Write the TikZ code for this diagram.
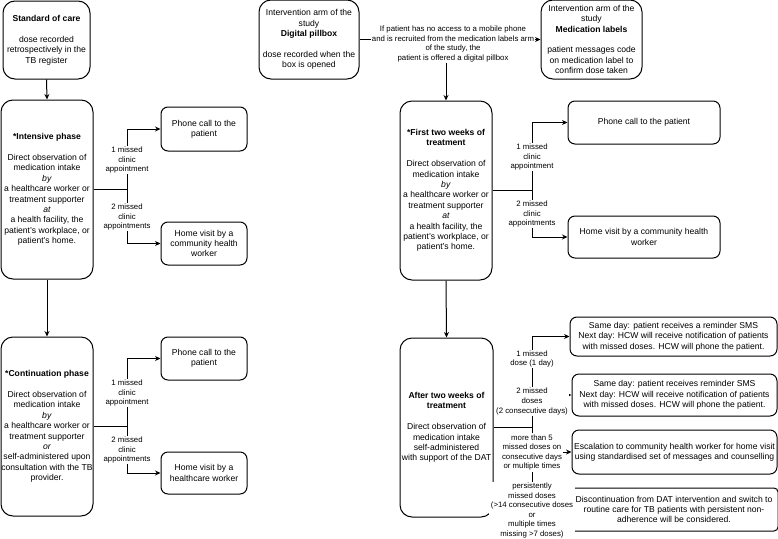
\documentclass[tikz,border=0pt]{standalone}
\usepackage{fontspec}
\setmainfont{Liberation Sans}
\usetikzlibrary{arrows.meta}
\tikzset{
  every node/.style={font=\fontsize{8.6}{10.4}\selectfont, align=center, inner sep=0pt},
  bigbox/.style={draw, line width=1pt, rounded corners=12pt, minimum width=#1},
  smallbox/.style={draw, line width=1pt, rounded corners=7pt, minimum width=#1},
  lbl/.style={fill=white, inner sep=1pt, font=\fontsize{7.8}{9.6}\selectfont},
  arr/.style={line width=1pt, -{Stealth[length=5.5pt,width=5pt]}},
  ln/.style={line width=1pt}
}
\begin{document}
\begin{tikzpicture}[x=1pt,y=-1pt]
\useasboundingbox (0,0) rectangle (778,538);

% ---------------- left column ----------------
\node[bigbox=87pt, minimum height=78pt] (soc) at (46.5,40)
  {\textbf{Standard of care}\\[10.4pt]dose recorded\\retrospectively in the\\TB register};
\node[bigbox=92pt, minimum height=179pt] (int) at (47,189.5)
  {\textbf{*Intensive phase}\\[10.4pt]Direct observation of\\medication intake\\\textit{by}\\a healthcare worker or\\treatment supporter\\\textit{at}\\a health facility, the\\patient's workplace, or\\patient's home.};
\node[smallbox=86pt, minimum height=44pt] (ph1) at (204,129) {Phone call to the\\patient};
\node[smallbox=86pt, minimum height=43pt] (hv1) at (204,243.5) {Home visit by a\\community health\\worker};
\node[bigbox=92pt, minimum height=179pt] (cont) at (47,426.5)
  {\textbf{*Continuation phase}\\[10.4pt]Direct observation of\\medication intake\\\textit{by}\\a healthcare worker or\\treatment supporter\\\textit{or}\\self-administered upon\\consultation with the TB\\provider.};
\node[smallbox=86pt, minimum height=43pt] (ph2) at (204,358.5) {Phone call to the\\patient};
\node[smallbox=86pt, minimum height=42pt] (hv2) at (204,473) {Home visit by a\\healthcare worker};

\draw[arr] (soc.south) -- (int.north);
\draw[arr] (int.south) -- (cont.north);

\coordinate (j1) at (127,189.5);
\draw[ln] (int.east) -- (j1);
\draw[arr] (j1) |- (ph1.west);
\draw[arr] (j1) |- (hv1.west);
\node[lbl] (l11) at (127,160) {1 missed\\clinic\\appointment};
\node[lbl] (l12) at (127,217) {2 missed\\clinic\\appointments};

\coordinate (j2) at (127,426.5);
\draw[ln] (cont.east) -- (j2);
\draw[arr] (j2) |- (ph2.west);
\draw[arr] (j2) |- (hv2.west);
\node[lbl] (l21) at (127,393) {1 missed\\clinic\\appointment};
\node[lbl] (l22) at (127,450) {2 missed\\clinic\\appointments};

% ---------------- right column ----------------
\node[bigbox=100pt, minimum height=79pt] (pill) at (309,39.5)
  {Intervention arm of the\\study\\\textbf{Digital pillbox}\\[10.4pt]dose recorded when the\\box is opened};
\node[bigbox=101pt, minimum height=79pt] (med) at (591.5,39.5)
  {Intervention arm of the\\study\\\textbf{Medication labels}\\[10.4pt]patient messages code\\on medication label to\\confirm dose taken};
\node[bigbox=92pt, minimum height=179pt] (first) at (446,190.5)
  {\textbf{*First two weeks of}\\\textbf{treatment}\\[10.4pt]Direct observation of\\medication intake\\\textit{by}\\a healthcare worker or\\treatment supporter\\\textit{at}\\a health facility, the\\patient's workplace, or\\patient's home.};
\node[smallbox=152pt, minimum height=43pt] (ph3) at (644,122.5) {Phone call to the patient};
\node[smallbox=152pt, minimum height=42pt] (hv3) at (644,237) {Home visit by a community health\\worker};
\node[bigbox=93pt, minimum height=179pt] (after) at (446.5,427.5)
  {\textbf{After two weeks of}\\\textbf{treatment}\\[10.4pt]Direct observation of\\medication intake\\self-administered\\with support of the DAT};
\node[smallbox=207pt, minimum height=39pt] (b1) at (673.5,336.5)
  {Same day: patient receives a reminder SMS\\Next day: HCW will receive notification of patients\\with missed doses. HCW will phone the patient.};
\node[smallbox=205pt, minimum height=42pt] (b2) at (674.5,395)
  {Same day: patient receives reminder SMS\\Next day: HCW will receive notification of patients\\with missed doses. HCW will phone the patient.};
\node[smallbox=205pt, minimum height=44pt] (b3) at (674.5,452)
  {Escalation to community health worker for home visit\\using standardised set of messages and counselling};
\node[smallbox=208pt, minimum height=43pt, rounded corners=4pt] (b4) at (674,509.5)
  {Discontinuation from DAT intervention and switch to\\routine care for TB patients with persistent non-\\adherence will be considered.};

\draw[arr] (pill.east) -- (med.west);
\node[lbl] (lt) at (453,44) {If patient has no access to a mobile phone\\and is recruited from the medication labels arm\\of the study, the\\patient is offered a digital pillbox};
\draw[arr] (first.north |- lt.south) -- (first.north);
\draw[arr] (first.south) -- (after.north);

\coordinate (j3) at (532,190.5);
\draw[ln] (first.east) -- (j3);
\draw[arr] (j3) |- (ph3.west);
\draw[arr] (j3) |- (hv3.west);
\node[lbl] (l31) at (532,157) {1 missed\\clinic\\appointment};
\node[lbl] (l32) at (532,214) {2 missed\\clinic\\appointments};

\coordinate (j4) at (532,427.5);
\draw[ln] (after.east) -- (j4);
\draw[arr] (j4) |- (b1.west);
\draw[arr] (j4) |- (b2.west);
\draw[arr] (j4) |- (b3.west);
\draw[arr] (j4) |- (b4.west);
\node[lbl] (l41) at (532,359) {1 missed\\dose (1 day)};
\node[lbl] (l42) at (532,401.5) {2 missed\\doses\\(2 consecutive days)};
\node[lbl] (l43) at (532,452.5) {more than 5\\missed doses on\\consecutive days\\or multiple times};
\node[lbl, inner xsep=2pt] (l44) at (532,510.5) {persistently\\missed doses\\(>14 consecutive doses\\or\\multiple times\\missing >7 doses)};
\end{tikzpicture}
\end{document}
